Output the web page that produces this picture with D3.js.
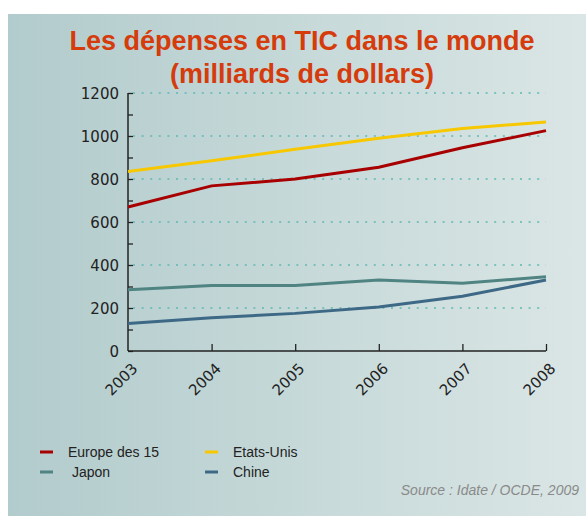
<!DOCTYPE html>
<html>
<head>
<meta charset="utf-8">
<script src="https://cdn.jsdelivr.net/npm/d3@7"></script>
<style>
  body { margin: 0; background: #fff; }
  svg { display: block; font-family: "Liberation Sans", Arial, sans-serif; }
</style>
</head>
<body>
<svg id="chart" width="586" height="516"></svg>
<script>
const years = [2003, 2004, 2005, 2006, 2007, 2008];
const europe = [670, 768, 800, 855, 945, 1025];
const usa = [835, 885, 938, 990, 1035, 1065];
const japon = [285, 305, 305, 330, 315, 345];
const chine = [128, 155, 175, 205, 255, 330];
const yTicks = [0, 200, 400, 600, 800, 1000, 1200];

const series = [
  {name: "Europe des 15", values: europe, color: "#a80000"},
  {name: "Etats-Unis", values: usa, color: "#f7c800"},
  {name: "Japon", values: japon, color: "#4f8482"},
  {name: "Chine", values: chine, color: "#3d6986"}
];

const svg = d3.select("#chart");

// background panel with gradient
const grad = svg.append("defs").append("linearGradient")
  .attr("id", "bg").attr("x1", "0%").attr("x2", "100%");
grad.append("stop").attr("offset", "0%").attr("stop-color", "#b2cbcc");
grad.append("stop").attr("offset", "100%").attr("stop-color", "#dae6e5");
svg.append("rect").attr("x", 8).attr("y", 14).attr("width", 578).attr("height", 502)
  .attr("fill", "url(#bg)");

// title
const title = svg.append("text").attr("text-anchor", "middle")
  .attr("fill", "#d63b0c").style("font-weight", "bold").style("font-size", "27px");
title.append("tspan").attr("x", 302).attr("y", 50).text("Les dépenses en TIC dans le monde");
title.append("tspan").attr("x", 302).attr("y", 83).text("(milliards de dollars)");

const x = d3.scaleLinear().domain([2003, 2008]).range([128, 546]);
const y = d3.scaleLinear().domain([0, 1200]).range([351, 93]);

// grid
svg.append("g").selectAll("line").data(yTicks.slice(1)).join("line")
  .attr("x1", 133).attr("x2", 546)
  .attr("y1", d => y(d)).attr("y2", d => y(d))
  .attr("stroke", "#5fb8b4").attr("stroke-width", 1.3)
  .attr("stroke-dasharray", "2,6.6");

// y axis
const yAxis = svg.append("g").attr("transform", "translate(128,0)")
  .call(d3.axisRight(y).tickValues(d3.range(0, 1201, 100)).tickSize(5).tickFormat(""));
yAxis.select(".domain").attr("stroke", "#222").attr("stroke-width", 1.5).attr("d", "M0,93V351");
yAxis.selectAll(".tick line").attr("stroke", "#222").attr("stroke-width", 1.3);
svg.append("g").selectAll("text").data(yTicks).join("text")
  .attr("x", 119).attr("y", d => y(d) + 6)
  .attr("text-anchor", "end").attr("fill", "#222")
  .style("font-family", "'DejaVu Sans', sans-serif").style("font-size", "15px")
  .text(d => d);

// x axis
const xAxis = svg.append("g").attr("transform", "translate(0,351)")
  .call(d3.axisTop(x).tickValues(years).tickSize(7).tickFormat(""));
xAxis.select(".domain").attr("stroke", "#222").attr("stroke-width", 1.5).attr("d", "M128,0H546");
xAxis.selectAll(".tick line").attr("stroke", "#222").attr("stroke-width", 1.3)
  .attr("opacity", d => d === 2003 ? 0 : 1);
svg.append("g").selectAll("text").data(years).join("text")
  .attr("transform", d => `translate(${x(d) + 3},${362}) rotate(-45)`)
  .attr("text-anchor", "end").attr("dy", "0.7em").attr("fill", "#222")
  .style("font-family", "'DejaVu Sans', sans-serif")
  .style("font-size", "15px").text(d => d);

// lines
const line = d3.line().x((d, i) => x(years[i])).y(d => y(d));
svg.append("g").selectAll("path").data(series).join("path")
  .attr("d", d => line(d.values))
  .attr("fill", "none").attr("stroke", d => d.color).attr("stroke-width", 3);

// legend
const legend = svg.append("g").selectAll("g").data(series).join("g")
  .attr("transform", (d, i) => `translate(${i % 2 ? 205 : 40},${i < 2 ? 452 : 472})`);
legend.append("line").attr("x1", 0).attr("x2", 13)
  .attr("stroke", d => d.color).attr("stroke-width", 3);
legend.append("text").attr("x", (d, i) => i === 2 ? 32 : 28).attr("y", 5)
  .attr("fill", "#222").style("font-size", "14px").text(d => d.name);

// source
svg.append("text").attr("x", 579).attr("y", 495).attr("text-anchor", "end")
  .attr("fill", "#8a8a8a").style("font-style", "italic").style("font-size", "14px")
  .text("Source : Idate / OCDE, 2009");
</script>
</body>
</html>
